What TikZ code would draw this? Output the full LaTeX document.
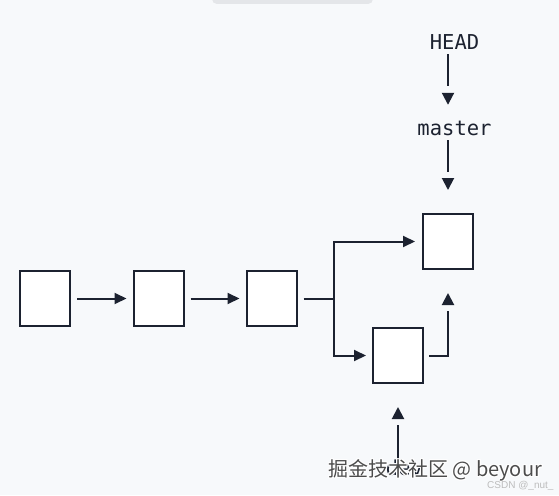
\documentclass[tikz,border=0pt]{standalone}
\usepackage{fontspec}
\newfontfamily\monof{DejaVu Sans Mono}
\newfontfamily\cjkf{Noto Sans CJK SC}
\newfontfamily\sansf{Liberation Sans}
\usetikzlibrary{arrows.meta,decorations.markings}
\definecolor{bg}{HTML}{F7F9FB}
\definecolor{ink}{HTML}{1C2230}
\definecolor{topbar}{HTML}{E4E6E9}
\definecolor{wmgray}{HTML}{4C4C4C}
\definecolor{csdngray}{HTML}{BDBDBD}
\begin{document}
\begin{tikzpicture}[x=1pt,y=-1pt,
  commit/.style={draw=ink, fill=white, line width=2pt, minimum width=50pt, minimum height=55pt, inner sep=0pt},
  lbl/.style={font=\monof\fontsize{20.5}{24}\selectfont, text=ink, inner sep=0pt, text height=16pt, text depth=0pt, anchor=base},
  conn/.style={color=ink, line width=2pt},
  harrow/.style={conn, -{Triangle[length=12pt,width=11pt]}},
  gaparrow/.style 2 args={conn, shorten >=#1, postaction={decorate, decoration={markings, mark=at position -#2 with {\arrow{Triangle[length=12pt,width=12pt]}}}}},
  wmtext/.style={font=\cjkf\fontsize{20}{24}\selectfont, inner sep=0pt, anchor=base west},
]
\useasboundingbox (0,0) rectangle (559,495);
\fill[bg] (0,0) rectangle (559,495);
\fill[topbar, rounded corners=5pt] (212,-10) rectangle (373,4);

% commits
\node[commit] (c1) at (45,298.5) {};
\node[commit] (c2) at (158.5,298.5) {};
\node[commit] (c3) at (271.5,298.5) {};
\node[commit] (m) at (448,241.5) {};
\node[commit] (d) at (398,355.5) {};

% labels
\node[lbl] (head) at (454.5,50) {HEAD};
\node[lbl] (master) at (454.5,135) {master};
\node[lbl] (dev) at (404.5,475) {dev};

% connectors
\draw[harrow, shorten <=6pt, shorten >=6pt] (c1) -- (c2);
\draw[harrow, shorten <=6pt, shorten >=6pt] (c2) -- (c3);
\coordinate (split) at (334,298.5);
\draw[conn, shorten <=6pt] (c3.east) -- (split);
\draw[harrow, shorten >=7pt] (split) |- (m.west);
\draw[harrow, shorten >=6pt] (split) |- (d.west);

\draw[gaparrow={33pt}{14pt}, shorten <=4pt] (head.south -| m.center) -- (master.north -| m.center);
\draw[gaparrow={41pt}{23pt}, shorten <=5pt] (master.south -| m.center) -- (m.north);
\draw[gaparrow={41pt}{23pt}, shorten <=5pt] (d.east) -| (m.south);
\draw[gaparrow={41pt}{23pt}] (dev.north -| d.center) -- (d.south);

% watermark
\foreach \dx/\dy [count=\k] in {-1/0,1/0,0/-1,0/1,-1/-1,1/1,-1/1,1/-1}
  \node[wmtext, text=white] (halo\k) at (328+\dx,476+\dy) {掘金技术社区 @ beyour};
\node[wmtext, text=wmgray] (wm) at (328,476) {掘金技术社区 @ beyour};
\node[font=\sansf\fontsize{10}{12}\selectfont, text=csdngray, inner sep=0pt, anchor=base west] (csdn) at (487,488) {CSDN @\_nut\_};
\end{tikzpicture}
\end{document}
